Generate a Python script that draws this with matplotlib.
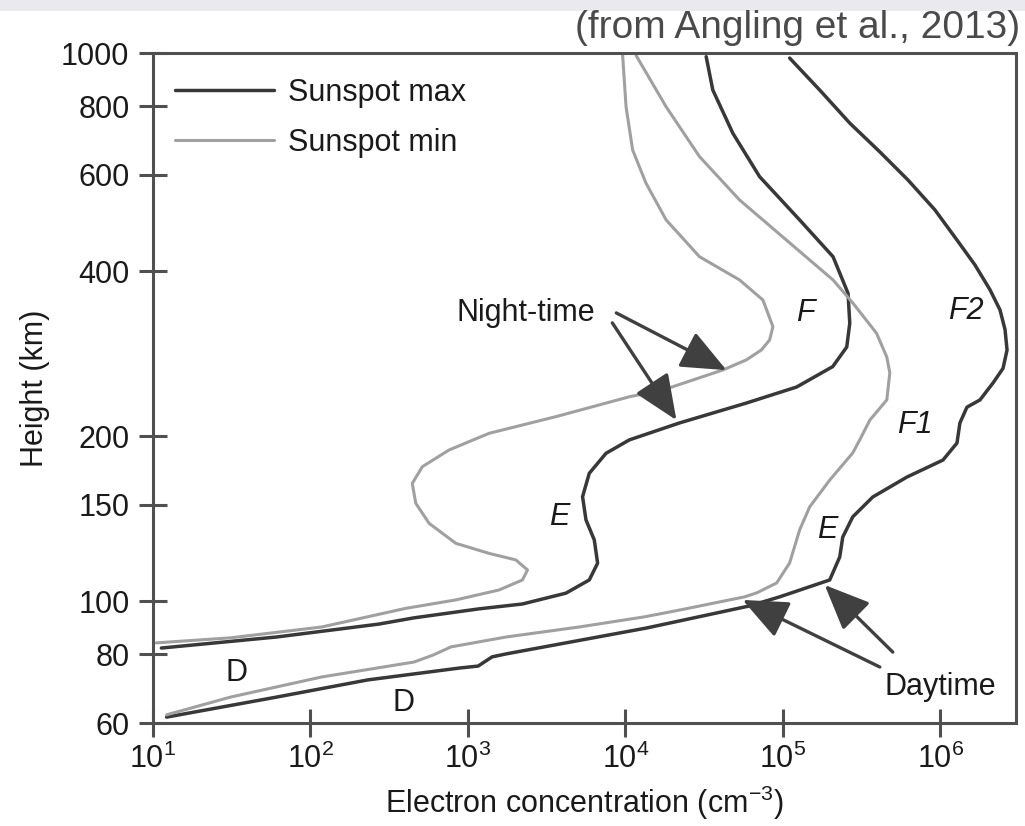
import matplotlib
matplotlib.use("Agg")
import matplotlib.pyplot as plt
from matplotlib.patches import Rectangle

plt.rcParams['font.family'] = ['Liberation Sans', 'DejaVu Sans']
plt.rcParams['mathtext.fontset'] = 'custom'
plt.rcParams['mathtext.rm'] = 'Liberation Sans'
plt.rcParams['mathtext.it'] = 'Liberation Sans:italic'

# ---------------- data (electron concentration cm^-3, height km) ----------------
night_min_n = [9598, 10090, 11110, 13520, 18130, 29530, 53040, 74620, 86390, 82320,
               72890, 58520, 41530, 26770, 17240, 10590, 3618, 1362, 758, 513,
               443, 466, 566, 837, 1362, 2014, 2388, 2219, 1577, 837,
               402, 118, 31.1, 10.5]
night_min_h = [990, 797.7, 665.4, 578.5, 496.1, 425.1, 385.6, 354.5, 316.9, 299.7,
               287.3, 275.6, 264.2, 253.3, 242.8, 236.1, 217.2, 202.5, 188.8, 176,
               164.1, 151, 138.8, 127.6, 122.3, 119, 114.1, 109.4, 104.9, 100.6,
               97.1, 89.8, 85.8, 84.0]

night_max_n = [32560, 35870, 48070, 71090, 127700, 208100, 259100, 265700, 254300, 207200,
               122300, 58750, 22020, 10590, 7527, 5893, 5342, 5615, 6342, 6657,
               5893, 4189, 2219, 1177, 454, 272, 61, 11.3]
night_max_h = [984.6, 856.1, 714.0, 595, 496.1, 425.1, 364.6, 321.5, 291, 268,
               246, 230, 211.5, 197, 186.2, 171.2, 155.2, 140.8, 129.4, 117.4,
               109.4, 103.5, 98.9, 96.9, 93.3, 90.9, 86.1, 82.2]

day_min_n = [11680, 18130, 29530, 53040, 105100, 208100, 278800, 392900, 456600, 477200,
             456600, 356100, 307500, 277600, 198200, 147900, 127700, 110300, 91200, 68040,
             57060, 22020, 13190, 5090, 1748, 781, 600, 454, 118, 31.1, 12.2]
day_min_h = [990, 797.7, 647.2, 539.5, 456, 385.6, 349.6, 308.3, 279, 261,
             233, 214, 197, 186.5, 166.4, 148.7, 135, 117.5, 108, 103.6,
             101.9, 96.4, 93.7, 89.8, 86.1, 82.6, 79.8, 77.5, 72.8, 66.9, 62.1]

day_max_n = [110300, 171200, 265700, 412200, 621300, 922600, 1.274e6, 1.658e6, 2.065e6, 2.39e6,
             2.573e6, 2.649e6, 2.498e6, 2.158e6, 1.784e6, 1.474e6, 1.33e6, 1.274e6, 1.038e6, 612300,
             372100, 277600, 239800, 229500, 198200, 95300, 61390, 13580, 1748, 1423,
             1160, 891, 231, 61, 12.2]
day_max_h = [979, 856.1, 745, 660.3, 587, 517.5, 456, 410.6, 370, 340,
             313, 287.3, 266, 250.2, 233, 226, 211.5, 194.4, 181, 168.5,
             155, 142.6, 131, 120.5, 109.4, 101.9, 98.1, 89.4, 80.2, 79.2,
             76.2, 75.6, 71.9, 66.9, 61.5]

y_ticks = [60, 80, 100, 150, 200, 400, 600, 800, 1000]
x_ticks = [1e1, 1e2, 1e3, 1e4, 1e5, 1e6]
x_tick_labels = ['$10^{1}$', '$10^{2}$', '$10^{3}$', '$10^{4}$', '$10^{5}$', '$10^{6}$']

# region labels: (text, n, h, italic)
region_labels = [('F', 139400, 335.7, True), ('F2', 1.453e6, 338.6, True),
                 ('F1', 688400, 209.8, True), ('E', 3798, 142.6, True),
                 ('E', 192500, 135, True), ('D', 34.0, 74.0, False),
                 ('D', 392, 65.3, False)]

# arrows: (tail n, tail h, tip n, tip h)
night_arrows = [(8750, 335.7, 43830, 264), (8254, 322, 21080, 214)]
day_arrows = [(412300, 75.9, 55460, 100.6), (498600, 80.8, 184200, 107.1)]

DARK = '#383838'
LIGHT = '#a0a0a0'
SPINE = '#505050'
TXT = '#1a1a1a'
FS = 22

fig = plt.figure(figsize=(10.25, 8.26), dpi=100)
fig.patches.append(Rectangle((0, 1 - 11 / 826), 1, 11 / 826, transform=fig.transFigure,
                             facecolor='#e9e9ee', edgecolor='none', zorder=0))
ax = fig.add_axes([153 / 1025, 1 - 723 / 826, (1016 - 153) / 1025, (723 - 53) / 826])
ax.set_xscale('log')
ax.set_yscale('log')
ax.set_xlim(10, 10 ** 6.48)
ax.set_ylim(60, 1000)

kw = dict(solid_joinstyle='round', solid_capstyle='round')
ax.plot(night_max_n, night_max_h, color=DARK, lw=2.5, label='Sunspot max', **kw)
ax.plot(night_min_n, night_min_h, color=LIGHT, lw=2.2, label='Sunspot min', **kw)
ax.plot(day_max_n, day_max_h, color=DARK, lw=2.5, **kw)
ax.plot(day_min_n, day_min_h, color=LIGHT, lw=2.2, **kw)

for s in ax.spines.values():
    s.set_color(SPINE)
    s.set_linewidth(2.2)

ax.set_xticks(x_ticks)
ax.set_xticklabels(x_tick_labels)
ax.set_yticks(y_ticks)
ax.set_yticklabels([str(v) for v in y_ticks])
ax.minorticks_off()
ax.tick_params(axis='both', which='major', direction='inout', length=20, width=2.2,
               color=SPINE, labelsize=FS, labelcolor=TXT)
ax.tick_params(axis='y', pad=7)
ax.tick_params(axis='x', pad=5)

ax.set_xlabel('Electron concentration (cm$^{-3}$)', fontsize=FS, color=TXT, labelpad=6)
ax.set_ylabel('Height (km)', fontsize=FS, color=TXT, labelpad=8)

leg = ax.legend(loc='upper left', bbox_to_anchor=(0.025, 0.963), frameon=False,
                fontsize=FS, handlelength=3.27, handletextpad=0.43, labelspacing=0.66,
                borderpad=0, borderaxespad=0)
for t in leg.get_texts():
    t.set_color(TXT)

for txt, n, h, it in region_labels:
    ax.text(n, h, txt, fontsize=FS, style='italic' if it else 'normal',
            ha='center', va='center', color=TXT)

ax.text(2342, 335.7, 'Night-time', fontsize=FS, ha='center', va='center', color=TXT)
ax.text(992700, 69.8, 'Daytime', fontsize=FS, ha='center', va='center', color=TXT)

for tn, th, hn, hh in night_arrows + day_arrows:
    ax.annotate('', xy=(hn, hh), xytext=(tn, th),
                arrowprops=dict(arrowstyle='-|>,head_length=1.4,head_width=0.6',
                                mutation_scale=20, color='#404040', lw=2.4,
                                shrinkA=0, shrinkB=0))

fig.text(1020 / 1025, 1 - 28 / 826, '(from Angling et al., 2013)', fontsize=28,
         ha='right', va='center', color='#4a4a4a')

fig.savefig('out.png', dpi=100, facecolor='white')
